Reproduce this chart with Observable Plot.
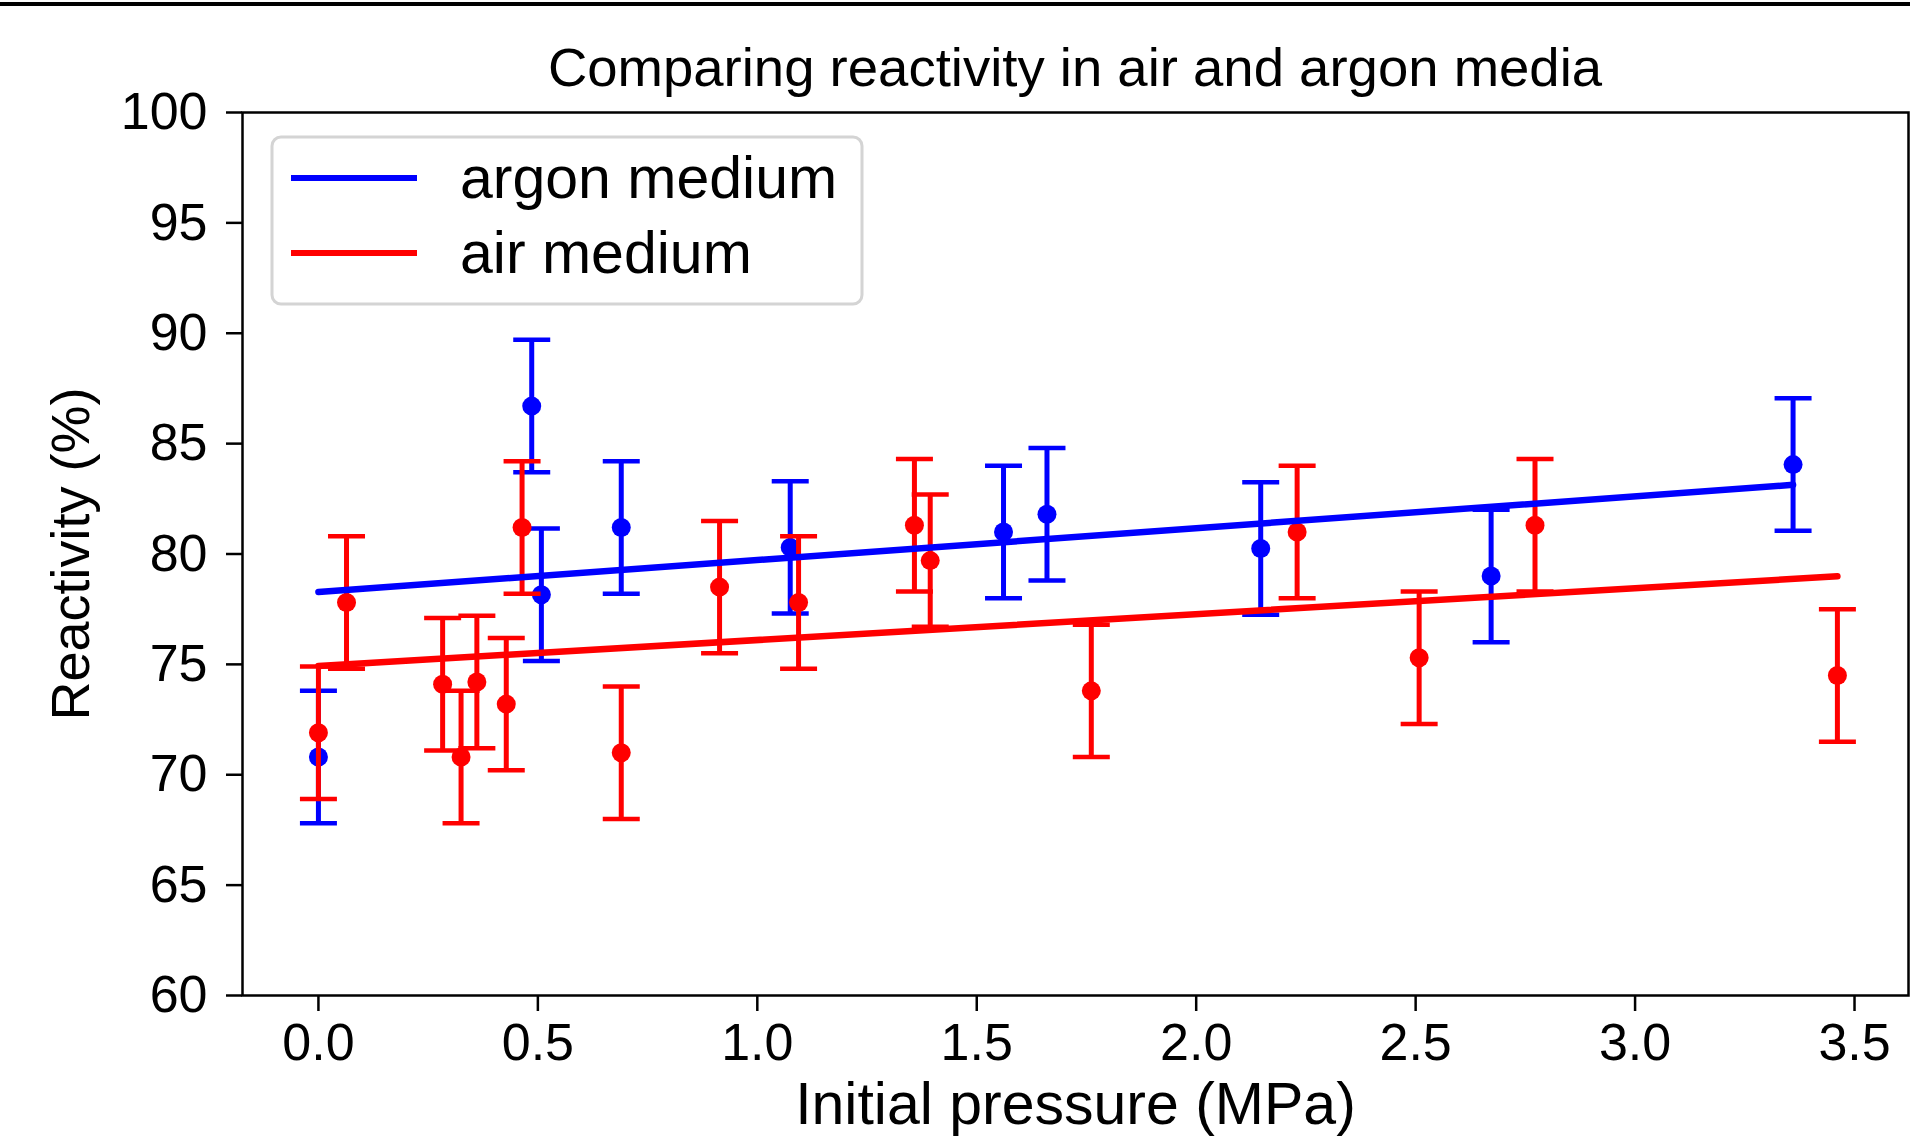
<!DOCTYPE html>
<html>
<head>
<meta charset="utf-8">
<script src="https://cdn.jsdelivr.net/npm/d3@7"></script>
<script src="https://cdn.jsdelivr.net/npm/@observablehq/plot@0.6"></script>
<style>
  body { margin: 0; background: #fff; font-family: "Liberation Sans", Arial, sans-serif; }
  #wrap { position: relative; width: 1910px; height: 1148px; overflow: hidden; }
  #topbar { position: absolute; left: 0; top: 2px; width: 1910px; height: 4px; background: #000; z-index: 2; }
  #title { position: absolute; left: 242px; width: 1666px; top: 41px; text-align: center;
           font-size: 54.5px; line-height: 1; color: #000; z-index: 2; white-space: nowrap; }
  #chart { position: absolute; left: 0; top: 0; }
</style>
</head>
<body>
<div id="wrap">
  <div id="chart"></div>
  <div id="topbar"></div>
  <div id="title">Comparing reactivity in air and argon media</div>
</div>
<script>
// ---- data ----
const argonPressure   = [0.0, 0.486, 0.508, 0.69, 1.075, 1.561, 1.66, 2.147, 2.672, 3.36];
const argonReactivity = [70.8, 86.7, 78.15, 81.2, 80.3, 81.0, 81.8, 80.25, 79.0, 84.05];
const argonError      = [3, 3, 3, 3, 3, 3, 3, 3, 3, 3];

const airPressure   = [0.0, 0.064, 0.283, 0.325, 0.361, 0.428, 0.464, 0.69, 0.914, 1.094, 1.358, 1.394, 1.761, 2.23, 2.508, 2.772, 3.461];
const airReactivity = [71.9, 77.8, 74.1, 70.8, 74.2, 73.2, 81.2, 71.0, 78.5, 77.8, 81.3, 79.7, 73.8, 81.0, 75.3, 81.3, 74.5];
const airError      = [3, 3, 3, 3, 3, 3, 3, 3, 3, 3, 3, 3, 3, 3, 3, 3, 3];

const seriesNames  = ["argon medium", "air medium"];
const seriesColors = ["#0000ff", "#ff0000"];
const xTicks = [0, 0.5, 1.0, 1.5, 2.0, 2.5, 3.0, 3.5];
const yTicks = [60, 65, 70, 75, 80, 85, 90, 95, 100];
const xLabel = "Initial pressure (MPa)";
const yLabel = "Reactivity (%)";

// ---- build tables ----
const argon = argonPressure.map((x, i) => ({x, y: argonReactivity[i], e: argonError[i]}));
const air   = airPressure.map((x, i) => ({x, y: airReactivity[i], e: airError[i]}));

// horizontal cap symbol for error bars (half-width = r)
const capSymbol = {
  draw(ctx, size) {
    const w = Math.sqrt(size / Math.PI);
    ctx.moveTo(-w, 0);
    ctx.lineTo(w, 0);
  }
};

function errorMarks(data, color) {
  return [
    Plot.ruleX(data, {x: "x", y1: d => d.y - d.e, y2: d => d.y + d.e, stroke: color, strokeWidth: 5}),
    Plot.dot(data, {x: "x", y: d => d.y + d.e, symbol: capSymbol, r: 18.5, stroke: color, strokeWidth: 4.5, fill: "none"}),
    Plot.dot(data, {x: "x", y: d => d.y - d.e, symbol: capSymbol, r: 18.5, stroke: color, strokeWidth: 4.5, fill: "none"}),
    Plot.dot(data, {x: "x", y: "y", r: 9.5, fill: color, stroke: "none"})
  ];
}

const chart = Plot.plot({
  width: 1910,
  height: 1148,
  marginTop: 112,
  marginBottom: 153,
  marginLeft: 242,
  marginRight: 2,
  style: {fontFamily: "'Liberation Sans', Arial, sans-serif", background: "white", color: "black"},
  x: {domain: [-0.173, 3.623]},
  y: {domain: [60, 100]},
  marks: [
    ...errorMarks(argon, seriesColors[0]),
    ...errorMarks(air, seriesColors[1]),
    Plot.linearRegressionY(argon, {x: "x", y: "y", stroke: seriesColors[0], strokeWidth: 6.5, ci: 0}),
    Plot.linearRegressionY(air, {x: "x", y: "y", stroke: seriesColors[1], strokeWidth: 6.5, ci: 0}),
    Plot.axisX({ticks: xTicks, tickFormat: d3.format(".1f"), tickSize: 16, tickPadding: 12,
                fontSize: 52, strokeWidth: 2.5, label: null}),
    Plot.axisY({ticks: yTicks, tickSize: 16, tickPadding: 19, fontSize: 52, strokeWidth: 2.5, label: null}),
    Plot.frame({stroke: "black", strokeWidth: 2.5}),
    Plot.text([xLabel], {frameAnchor: "bottom", dy: 110, fontSize: 59, textAnchor: "middle", lineAnchor: "middle", fill: "black"}),
    Plot.text([yLabel], {frameAnchor: "left", dx: -171, rotate: -90, fontSize: 54, textAnchor: "middle", lineAnchor: "middle", fill: "black"})
  ]
});

// ---- legend inside the plot area ----
const svg = d3.select(chart);
const lg = svg.append("g").attr("class", "legend").attr("text-anchor", "start");
lg.append("rect")
  .attr("x", 272).attr("y", 137).attr("width", 590).attr("height", 167)
  .attr("rx", 9).attr("fill", "white").attr("fill-opacity", 0.8)
  .attr("stroke", "#d4d4d4").attr("stroke-width", 3);
const rowsY = [178, 253];
seriesNames.forEach((name, i) => {
  lg.append("line")
    .attr("x1", 291).attr("x2", 417).attr("y1", rowsY[i]).attr("y2", rowsY[i])
    .attr("stroke", seriesColors[i]).attr("stroke-width", 6);
  lg.append("text")
    .attr("x", 460).attr("y", rowsY[i] + 20)
    .attr("text-anchor", "start")
    .attr("font-size", 59).attr("fill", "black")
    .attr("font-family", "'Liberation Sans', Arial, sans-serif")
    .text(name);
});

document.getElementById("chart").appendChild(chart);
</script>
</body>
</html>
